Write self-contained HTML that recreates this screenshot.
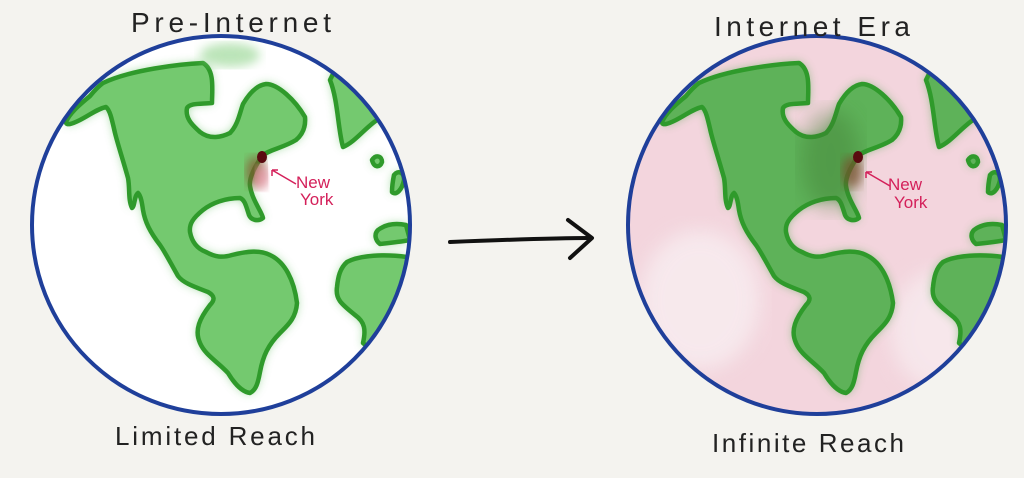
<!DOCTYPE html>
<html><head><meta charset="utf-8"><style>
html,body{margin:0;padding:0;background:#f4f3ef;width:1024px;height:478px;overflow:hidden}
svg{display:block}
text{font-family:"Liberation Sans",sans-serif;}
</style></head><body>
<svg width="1024" height="478" viewBox="0 0 1024 478">
<defs>
<filter id="blur" x="-10%" y="-10%" width="120%" height="120%"><feGaussianBlur stdDeviation="5"/></filter>
<filter id="blur2"><feGaussianBlur stdDeviation="10"/></filter>
<clipPath id="clipL"><circle cx="221" cy="225" r="189"/></clipPath>
<clipPath id="clipR"><circle cx="817" cy="225" r="189"/></clipPath>
<g id="lands">
 <path d="M103,83 C130,70 180,64 203,63 C215,70 212,90 212,103 C200,104 190,103 187,108 C185,118 192,125 200,132 C210,140 222,137 230,133 C238,125 240,112 243,104 C250,92 258,85 266,84 C278,84 295,100 305,117 C306,128 302,135 296,140 C283,148 268,150 262,156 C254,168 249,178 250,186 C252,200 262,212 263,218 C258,222 251,220 249,215 C246,206 245,200 240,198 C225,198 212,203 203,210 C193,218 189,224 190,232 C192,243 198,249 206,252 C215,257 222,258 232,255 C248,251 260,250 270,255 C285,262 294,280 297,303 C296,318 288,325 280,333 C268,345 263,356 260,372 C258,383 256,390 250,393 C242,392 234,383 228,373 C218,362 205,355 200,343 C194,330 200,318 210,305 C215,300 215,296 208,292 C195,287 183,283 178,276 C170,262 165,252 160,245 C150,232 145,222 143,210 C142,203 141,196 138,193 C134,196 135,206 132,208 C128,200 130,188 128,178 C123,160 118,145 115,133 C112,120 110,110 106,107 C97,109 90,115 80,120 C72,124 66,126 66,122 C70,112 82,103 90,96 C95,90 99,86 103,83 Z"/>
 <path d="M330,80 C338,100 338,130 343,147 C355,142 365,128 377,120 C390,112 400,115 410,118 L412,60 L340,60 Z"/>
 <path d="M347,262 C360,255 385,254 407,257 L412,300 L395,340 C385,348 372,352 363,343 C366,330 365,322 355,315 C343,305 335,300 337,287 C338,277 340,268 347,262 Z"/>
 <path d="M378,230 C386,224 396,223 406,225 L410,240 C400,242 390,243 380,244 C375,240 374,234 378,230 Z"/>
 <path d="M372,160 C376,154 382,156 382,162 C380,168 374,168 372,160 Z"/>
 <path d="M394,175 C398,170 404,172 404,180 C402,190 396,196 392,192 C392,186 393,180 394,175 Z"/>
</g>
</defs>
<rect width="1024" height="478" fill="#f4f3ef"/>

<!-- Left globe -->
<g>
 <circle cx="221" cy="225" r="189" fill="#ffffff"/>
 <g clip-path="url(#clipL)">
  <use href="#lands" fill="#6cc36a" filter="url(#blur)" opacity="0.75"/>
  <use href="#lands" fill="#74c96f" stroke="#2f9a2b" stroke-width="4.5" stroke-linejoin="round"/>
  <ellipse cx="230" cy="55" rx="30" ry="12" fill="#8fd38a" opacity="0.6" filter="url(#blur)"/>
  <ellipse cx="256" cy="172" rx="10" ry="16" fill="#8a4d2f" opacity="0.7" filter="url(#blur)"/>
  <ellipse cx="262" cy="178" rx="6" ry="12" fill="#f29bb2" opacity="0.8" filter="url(#blur)"/>
  <ellipse cx="262" cy="157" rx="5" ry="6" fill="#5a0a10"/>
 </g>
 <circle cx="221" cy="225" r="189" fill="none" stroke="#1f3f9a" stroke-width="4"/>
 <path d="M272,170 L296,184 M272,170 L278,170 M272,170 L272,176" stroke="#d4205a" stroke-width="1.5" fill="none"/>
 <text x="296" y="188" font-size="17" fill="#d4205a">New</text>
 <text x="300" y="205" font-size="17" fill="#d4205a">York</text>
</g>

<!-- Right globe -->
<g>
 <circle cx="817" cy="225" r="189" fill="#ffffff"/>
 <g clip-path="url(#clipR)">
  <circle cx="817" cy="225" r="189" fill="#eec3cf" opacity="0.7"/>
  <ellipse cx="700" cy="300" rx="60" ry="70" fill="#f8eef1" filter="url(#blur2)" opacity="0.8"/>
  <ellipse cx="940" cy="330" rx="50" ry="60" fill="#f8eef1" filter="url(#blur2)" opacity="0.7"/>
  <g transform="translate(596,0)">
   <use href="#lands" fill="#4ea84b" filter="url(#blur)" opacity="0.7"/>
   <use href="#lands" fill="#5eb259" stroke="#2f9a2b" stroke-width="4.5" stroke-linejoin="round"/>
   <ellipse cx="235" cy="160" rx="30" ry="50" fill="#3f7a33" opacity="0.4" filter="url(#blur2)"/>
   <ellipse cx="256" cy="172" rx="10" ry="16" fill="#7a4b2a" opacity="0.7" filter="url(#blur)"/>
   <ellipse cx="262" cy="157" rx="5" ry="6" fill="#5a0a10"/>
  </g>
 </g>
 <circle cx="817" cy="225" r="189" fill="none" stroke="#1f3f9a" stroke-width="4"/>
 <path d="M866,172 L890,186 M866,172 L872,172 M866,172 L866,178" stroke="#d4205a" stroke-width="1.5" fill="none"/>
 <text x="888" y="190" font-size="17" fill="#d4205a">New</text>
 <text x="894" y="208" font-size="17" fill="#d4205a">York</text>
</g>

<!-- Arrow -->
<g>
 <path d="M450,242 C500,240 550,238 590,238" stroke="#111" stroke-width="4" fill="none" stroke-linecap="round"/>
 <path d="M568,220 L592,238 L570,258" stroke="#111" stroke-width="4" fill="none" stroke-linecap="round" stroke-linejoin="round"/>
</g>

<text x="231" y="32" font-size="28" text-anchor="middle" fill="#222" font-weight="300" textLength="200">Pre-Internet</text>
<text x="812" y="36" font-size="28" text-anchor="middle" fill="#222" textLength="196">Internet Era</text>
<text x="215" y="445" font-size="26" text-anchor="middle" fill="#222" textLength="200">Limited Reach</text>
<text x="808" y="452" font-size="26" text-anchor="middle" fill="#222" textLength="192">Infinite Reach</text>
</svg>
</body></html>
